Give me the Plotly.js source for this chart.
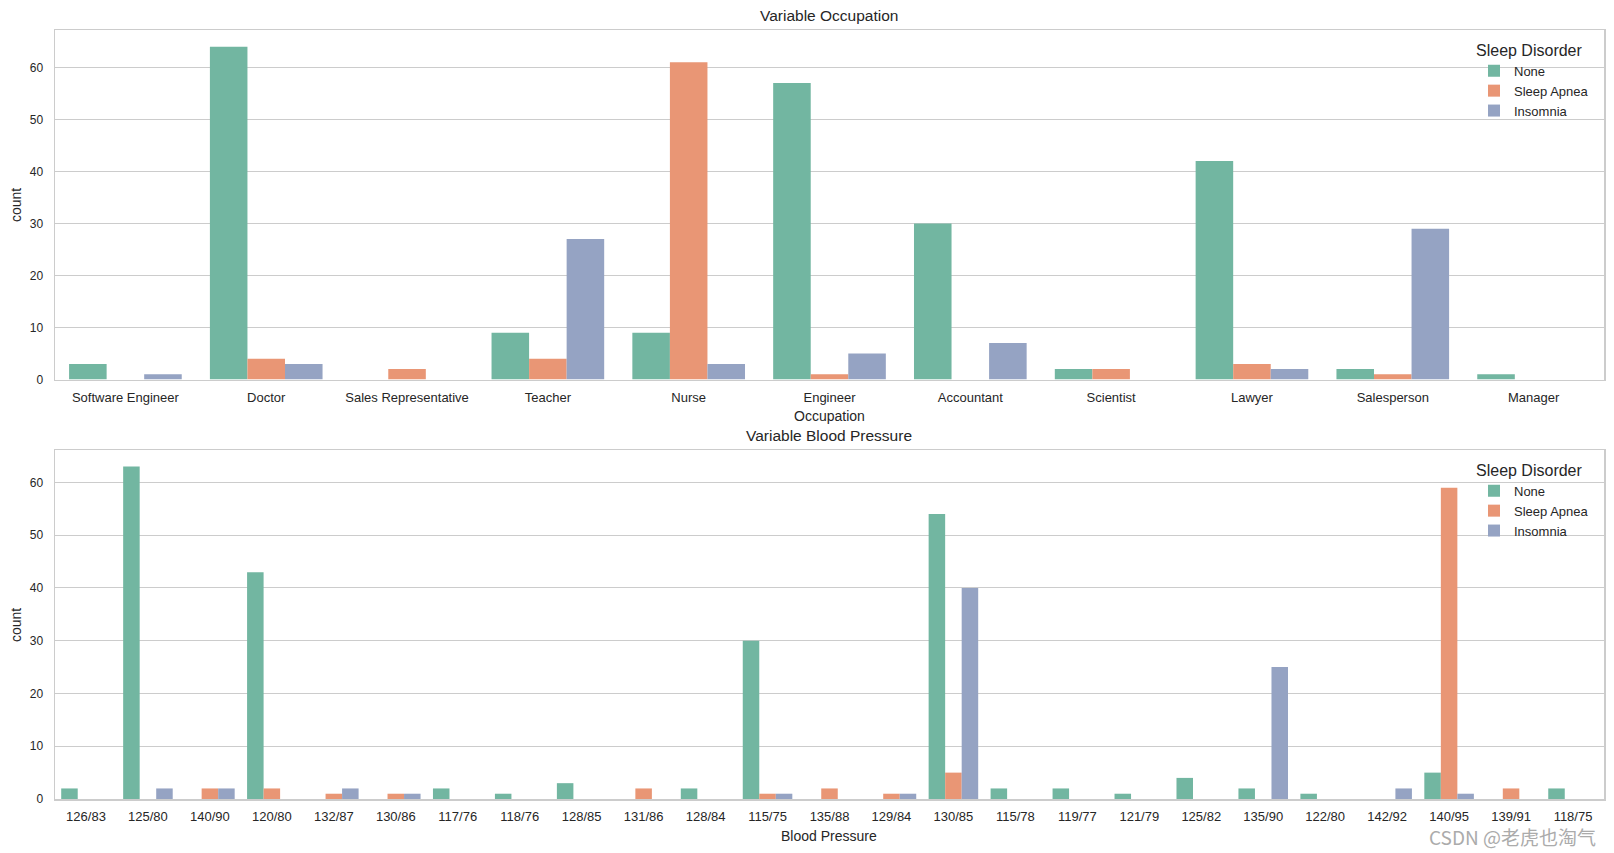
<!DOCTYPE html>
<html>
<head>
<meta charset="utf-8">
<script src="https://cdn.plot.ly/plotly-3.0.1.min.js"></script>
<style>html,body{margin:0;padding:0;background:#fff;}#chart{width:1614px;height:853px;}</style>
</head>
<body>
<div id="chart"></div>
<script>
// ---- Data ----
const hueLevels = ["None", "Sleep Apnea", "Insomnia"];

const occupations = ["Software Engineer", "Doctor", "Sales Representative", "Teacher", "Nurse",
  "Engineer", "Accountant", "Scientist", "Lawyer", "Salesperson", "Manager"];
const occNone     = [3, 64, 0, 9, 9, 57, 30, 2, 42, 2, 1];
const occApnea    = [0, 4, 2, 4, 61, 1, 0, 2, 3, 1, 0];
const occInsomnia = [1, 3, 0, 27, 3, 5, 7, 0, 2, 29, 0];

const bloodPressure = ["126/83", "125/80", "140/90", "120/80", "132/87", "130/86", "117/76", "118/76",
  "128/85", "131/86", "128/84", "115/75", "135/88", "129/84", "130/85", "115/78", "119/77", "121/79",
  "125/82", "135/90", "122/80", "142/92", "140/95", "139/91", "118/75"];
const bpNone     = [2, 63, 0, 43, 0, 0, 2, 1, 3, 0, 2, 30, 0, 0, 54, 2, 2, 1, 4, 2, 1, 0, 5, 0, 2];
const bpApnea    = [0, 0, 2, 2, 1, 1, 0, 0, 0, 2, 0, 1, 2, 1, 5, 0, 0, 0, 0, 0, 0, 0, 59, 2, 0];
const bpInsomnia = [0, 2, 2, 0, 2, 1, 0, 0, 0, 0, 0, 1, 0, 1, 40, 0, 0, 0, 0, 25, 0, 2, 1, 0, 0];

const yTicks = [0, 10, 20, 30, 40, 50, 60];

// ---- Styles ----
const colors = ["#72b6a1", "#e99675", "#95a3c3"];
const FONT = "Liberation Sans, Arial, sans-serif";
const TXT = "#262626";
const EDGE = "#cccccc";

function bars(cats, series, xa, ya, legendName) {
  return series.map((vals, i) => ({
    type: "bar",
    x: cats,
    y: vals,
    name: hueLevels[i],
    marker: { color: colors[i], line: { width: 0 } },
    xaxis: xa, yaxis: ya,
    legend: legendName,
    hoverinfo: "x+y+name"
  }));
}

const traces = [
  ...bars(occupations, [occNone, occApnea, occInsomnia], "x", "y", "legend"),
  ...bars(bloodPressure, [bpNone, bpApnea, bpInsomnia], "x2", "y2", "legend2")
];

function maxOf(arrs) { return Math.max(...arrs.map(a => Math.max(...a))); }
const top1 = maxOf([occNone, occApnea, occInsomnia]) * 1.05;
const top2 = maxOf([bpNone, bpApnea, bpInsomnia]) * 1.05;

const W = 1614, H = 853;
const X0 = 55, X1 = 1604;
const xDom = [X0 / W, X1 / W];
const y1Dom = [1 - 379.5 / H, 1 - 30 / H];
const y2Dom = [1 - 799 / H, 1 - 450 / H];

function xAxis(cats, dom, anchor) {
  return {
    domain: dom, anchor: anchor,
    type: "category",
    range: [-0.5, cats.length - 0.5],
    showgrid: false, zeroline: false,
    showline: true, mirror: true, linecolor: EDGE, linewidth: 1.5,
    ticks: "", ticklabelstandoff: 5,
    tickfont: { family: FONT, size: 13, color: TXT },
    fixedrange: true
  };
}
function yAxis(dom, anchor, top) {
  return {
    domain: dom, anchor: anchor,
    range: [0, top],
    tickvals: yTicks,
    showgrid: true, gridcolor: EDGE, gridwidth: 1,
    zeroline: false,
    showline: true, mirror: true, linecolor: EDGE, linewidth: 1.5,
    ticks: "", ticklabelstandoff: 8,
    tickfont: { family: FONT, size: 12, color: TXT },
    fixedrange: true
  };
}

function legendCfg(yTop) {
  return {
    x: 1474 / W, y: yTop, xanchor: "left", yanchor: "top",
    bgcolor: "rgba(255,255,255,0)", borderwidth: 0,
    title: { text: "Sleep Disorder", font: { family: FONT, size: 16, color: TXT }, side: "top" },
    font: { family: FONT, size: 13, color: TXT },
    tracegroupgap: 0
  };
}

function txt(text, x, y, size, extra) {
  return Object.assign({
    text: text, xref: "paper", yref: "paper", x: x / W, y: 1 - y / H,
    xanchor: "center", yanchor: "middle", showarrow: false,
    font: { family: FONT, size: size, color: TXT }
  }, extra || {});
}

const midX = (X0 + X1) / 2;

const layout = {
  width: W, height: H,
  paper_bgcolor: "#ffffff", plot_bgcolor: "#ffffff",
  margin: { l: 0, r: 0, t: 0, b: 0 },
  barmode: "group", bargap: 0.2, bargroupgap: 0,
  font: { family: FONT, color: TXT },
  xaxis: xAxis(occupations, xDom, "y"),
  yaxis: yAxis(y1Dom, "x", top1),
  xaxis2: xAxis(bloodPressure, xDom, "y2"),
  yaxis2: yAxis(y2Dom, "x2", top2),
  legend: legendCfg(1 - 35 / H),
  legend2: legendCfg(1 - 455 / H),
  annotations: [
    txt("Variable Occupation", midX, 16, 15.5),
    txt("Variable Blood Pressure", midX, 435, 15.5),
    txt("Occupation", midX, 416, 14),
    txt("Blood Pressure", midX, 836, 14),
    txt("count", 16, 205, 14, { textangle: -90 }),
    txt("count", 16, 625, 14, { textangle: -90 }),
    txt("CSDN @老虎也淘气", 1598, 836, 19, {
      xanchor: "right",
      font: { family: "Noto Sans CJK SC, sans-serif", size: 19, color: "#ababab" } })
  ],
  showlegend: true
};

Plotly.newPlot("chart", traces, layout, { displayModeBar: false, staticPlot: true });
</script>
</body>
</html>
